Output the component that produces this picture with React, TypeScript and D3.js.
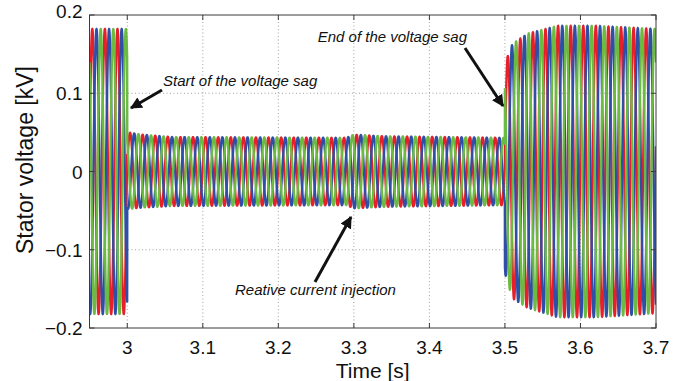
import { useEffect, useRef } from 'react';
import * as d3 from 'd3';

// envelope of the three-phase stator voltage (kV)
const envTimes = [2.95, 2.9999, 3.0, 3.02, 3.06, 3.29, 3.3, 3.34, 3.4999, 3.5, 3.51, 3.53, 3.57, 3.62, 3.7];
const envTop = [0.182, 0.182, 0.05, 0.047, 0.044, 0.043, 0.047, 0.045, 0.043, 0.138, 0.163, 0.176, 0.186, 0.186, 0.182];
const envBottom = [-0.182, -0.182, -0.048, -0.046, -0.044, -0.043, -0.047, -0.045, -0.043, -0.13, -0.162, -0.174, -0.186, -0.186, -0.181];

const gridFreq = 60; // Hz
const redPeakTime = 2.9537; // first red crest
const phaseNames = ['a', 'b', 'c'];
const phaseShifts = [0, -120, 120]; // degrees
const phaseColors = ['#e5202a', '#2f4ea6', '#6bba41'];

const xTicks = [3, 3.1, 3.2, 3.3, 3.4, 3.5, 3.6, 3.7];
const yTicks = [-0.2, -0.1, 0, 0.1, 0.2];

const annotations = [
  { text: 'Start of the voltage sag', tx: 163, ty: 86, anchor: 'start', from: [162, 90], to: [131, 108] },
  { text: 'End of the voltage sag', tx: 467, ty: 42, anchor: 'end', from: [465, 48], to: [503, 106] },
  { text: 'Reative current injection', tx: 235, ty: 295, anchor: 'start', from: [315, 282], to: [351, 217] },
];

export default function App() {
  const svgRef = useRef<SVGSVGElement>(null);

  useEffect(() => {
    if (!svgRef.current) return;
    document.body.style.margin = '0';
    const svg = d3.select(svgRef.current);
    svg.selectAll('*').remove();

    const width = 691;
    const height = 381;
    const margin = { top: 15, right: 35, bottom: 53, left: 89.5 };
    const innerWidth = width - margin.left - margin.right;
    const innerHeight = height - margin.top - margin.bottom;

    const x = d3.scaleLinear().domain([2.95, 3.7]).range([0, innerWidth]);
    const y = d3.scaleLinear().domain([-0.2, 0.2]).range([innerHeight, 0]);
    const topEnv = d3.scaleLinear().domain(envTimes).range(envTop).clamp(true);
    const botEnv = d3.scaleLinear().domain(envTimes).range(envBottom).clamp(true);

    const font = 'Liberation Sans, Arial, Helvetica, sans-serif';
    const g = svg.append('g').attr('transform', `translate(${margin.left},${margin.top})`);

    svg.append('defs').append('clipPath').attr('id', 'plot-clip')
      .append('rect').attr('width', innerWidth).attr('height', innerHeight);

    // grid
    g.selectAll('.vgrid').data(xTicks.slice(0, -1)).join('line')
      .attr('x1', (d) => x(d)).attr('x2', (d) => x(d))
      .attr('y1', 0).attr('y2', innerHeight)
      .attr('stroke', '#8a8a8a').attr('stroke-width', 0.8).attr('stroke-dasharray', '1,2.5');
    g.selectAll('.hgrid').data(yTicks.slice(1, -1)).join('line')
      .attr('x1', 0).attr('x2', innerWidth)
      .attr('y1', (d) => y(d)).attr('y2', (d) => y(d))
      .attr('stroke', '#8a8a8a').attr('stroke-width', 0.8).attr('stroke-dasharray', '1,2.5');

    // waveforms
    const samples = d3.range(0, 0.75 * gridFreq * 220 + 1).map((i) => 2.95 + i / (gridFreq * 220));
    const omega = 2 * Math.PI * gridFreq;
    const line = d3.line<number>().x((t) => x(t));
    const plot = g.append('g').attr('clip-path', 'url(#plot-clip)');
    phaseNames.forEach((name, k) => {
      const shift = (phaseShifts[k] * Math.PI) / 180;
      line.y((t) => {
        const top = topEnv(t);
        const bot = botEnv(t);
        const s = Math.cos(omega * (t - redPeakTime) + shift);
        return y((top + bot) / 2 + ((top - bot) / 2) * s);
      });
      plot.append('path')
        .attr('class', `phase-${name}`)
        .attr('d', line(samples))
        .attr('fill', 'none')
        .attr('stroke', phaseColors[k])
        .attr('stroke-width', 2.4);
    });

    // frame
    g.append('rect').attr('width', innerWidth).attr('height', innerHeight)
      .attr('fill', 'none').attr('stroke', '#3a3a3a').attr('stroke-width', 1);

    // inward ticks
    xTicks.forEach((d) => {
      g.append('line').attr('x1', x(d)).attr('x2', x(d)).attr('y1', innerHeight).attr('y2', innerHeight - 5).attr('stroke', '#3a3a3a');
      g.append('line').attr('x1', x(d)).attr('x2', x(d)).attr('y1', 0).attr('y2', 5).attr('stroke', '#3a3a3a');
    });
    yTicks.forEach((d) => {
      g.append('line').attr('x1', 0).attr('x2', 5).attr('y1', y(d)).attr('y2', y(d)).attr('stroke', '#3a3a3a');
      g.append('line').attr('x1', innerWidth).attr('x2', innerWidth - 5).attr('y1', y(d)).attr('y2', y(d)).attr('stroke', '#3a3a3a');
    });

    // tick labels
    g.selectAll('.xlab').data(xTicks).join('text')
      .attr('x', (d) => x(d)).attr('y', innerHeight + 26)
      .attr('text-anchor', 'middle')
      .attr('font-family', font).attr('font-size', 19).attr('fill', '#111')
      .text((d) => d3.format('')(d));
    g.selectAll('.ylab').data(yTicks).join('text')
      .attr('x', -7).attr('y', (d) => y(d) + (d === 0.2 ? 3 : 7))
      .attr('text-anchor', 'end')
      .attr('font-family', font).attr('font-size', 19).attr('fill', '#111')
      .text((d) => (d < 0 ? `\u2212${Math.abs(d)}` : `${d}`));

    // axis titles
    svg.append('text')
      .attr('x', margin.left + innerWidth / 2).attr('y', 378)
      .attr('text-anchor', 'middle')
      .attr('font-family', font).attr('font-size', 21).attr('fill', '#111')
      .text('Time [s]');
    svg.append('text')
      .attr('transform', 'translate(33,160) rotate(-90)')
      .attr('text-anchor', 'middle')
      .attr('font-family', font).attr('font-size', 23).attr('fill', '#111')
      .text('Stator voltage [kV]');

    // annotations
    svg.append('defs').append('marker')
      .attr('id', 'arrowhead')
      .attr('viewBox', '0 0 10 10').attr('refX', 9).attr('refY', 5)
      .attr('markerWidth', 4).attr('markerHeight', 4)
      .attr('markerUnits', 'strokeWidth')
      .attr('orient', 'auto')
      .append('path').attr('d', 'M0,0 L10,5 L0,10 Z').attr('fill', '#111');
    annotations.forEach((a) => {
      svg.append('line')
        .attr('x1', a.from[0]).attr('y1', a.from[1])
        .attr('x2', a.to[0]).attr('y2', a.to[1])
        .attr('stroke', '#111').attr('stroke-width', 3)
        .attr('marker-end', 'url(#arrowhead)');
      svg.append('text')
        .attr('x', a.tx).attr('y', a.ty)
        .attr('text-anchor', a.anchor)
        .attr('font-family', font).attr('font-style', 'italic')
        .attr('font-size', 15).attr('fill', '#111')
        .text(a.text);
    });
  }, []);

  return <svg ref={svgRef} width={691} height={381} style={{ display: 'block', background: '#fff' }} />;
}
